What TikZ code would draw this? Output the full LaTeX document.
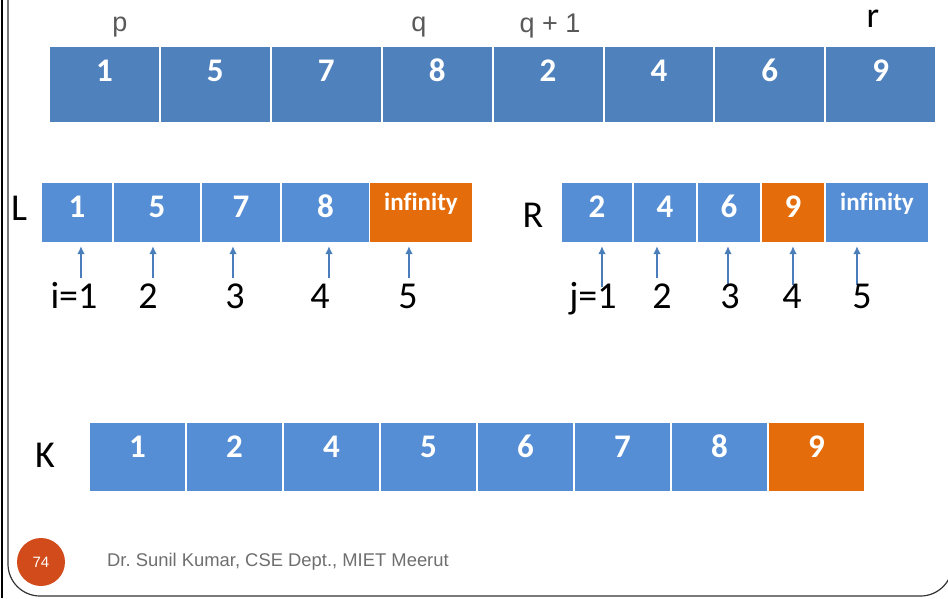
\documentclass[tikz,border=0pt]{standalone}
\usepackage{fontspec}
\setmainfont{Carlito}
\newfontfamily\arialFont{Liberation Sans}
\usetikzlibrary{arrows.meta, positioning, calc}
\definecolor{topBlue}{RGB}{79,129,189}
\definecolor{cellBlue}{RGB}{85,142,213}
\definecolor{cellOrange}{RGB}{228,108,10}
\definecolor{arrowBlue}{RGB}{74,126,187}
\definecolor{footRed}{RGB}{210,75,26}
\definecolor{labelGray}{RGB}{89,89,89}
\definecolor{footGray}{RGB}{110,110,110}
\tikzset{
    cellBase/.style={
        rectangle,
        inner sep=0pt,
        text=white,
        font=\fontsize{33}{33}\selectfont\bfseries,
        text height=34pt
    },
    topCell/.style={
        cellBase,
        fill=topBlue,
        minimum width=108.9pt,
        minimum height=75pt,
        text depth=41pt
    },
    midCell/.style={
        cellBase,
        minimum height=59pt,
        text depth=25pt
    },
    infCell/.style={
        midCell,
        font=\fontsize{25}{25}\selectfont\bfseries,
        text height=27pt,
        text depth=32pt
    },
    kCell/.style={
        cellBase,
        fill=cellBlue,
        minimum width=95pt,
        minimum height=68pt,
        text depth=34pt
    },
    ptrArrow/.style={
        -{Latex[length=8pt, width=7.5pt]},
        line width=1.7pt,
        draw=arrowBlue
    },
    idxLabel/.style={
        anchor=base,
        inner sep=0pt,
        font=\fontsize{38}{38}\selectfont
    },
    posLabel/.style={
        anchor=base,
        inner sep=0pt,
        text=labelGray,
        font=\arialFont\fontsize{27}{27}\selectfont
    }
}
\begin{document}
\begin{tikzpicture}[x=1pt, y=-1pt]
        \useasboundingbox (0,0) rectangle (948,598);

        % Slide frame
        \draw[line width=2pt] (2,0) -- (2,598);
        \draw[black!80, line width=1.2pt, rounded corners=32pt] (8,-40) -- (8,596) -- (952.5,596) -- (952.5,-40);

        % Array A[p..r]
        \foreach \v [count=\i] in {1,5,7,8,2,4,6,9} {
            \node[topCell] (t\i) at ({104.45+110.9*(\i-1)}, 84.5) {\v};
        }
        \node[posLabel] (pLab) at (120,31) {p};
        \node[posLabel] (qLab) at (419,31) {q};
        \node[posLabel] (q1Lab) at (550,32) {q + 1};
        \node[idxLabel, font=\fontsize{36}{36}\selectfont] (rLab) at (873,27) {r};

        % Left array L
        \node[idxLabel] (lName) at (19,220) {L};
        \foreach \cx/\w/\v [count=\i] in {77/70/1, 157/86/5, 241/78/7, 325.5/87/8} {
            \node[midCell, fill=cellBlue, minimum width=\w pt] (l\i) at (\cx,212.5) {\v};
        }
        \node[infCell, fill=cellOrange, minimum width=102pt] (l5) at (421,212.5) {inf\kern0pt inity};

        % Right array R
        \node[idxLabel] (rName) at (533,227) {R};
        \foreach \cx/\w/\v/\c [count=\i] in {597/70/2/cellBlue, 665/62/4/cellBlue, 729/62/6/cellBlue, 793/62/9/cellOrange} {
            \node[midCell, fill=\c, minimum width=\w pt] (r\i) at (\cx,212.5) {\v};
        }
        \node[infCell, fill=cellBlue, minimum width=102pt] (r5) at (877,212.5) {inf\kern0pt inity};

        % Index pointers
        \coordinate (lTip) at (0,246);
        \foreach \x/\y [count=\i] in {81/278, 153/278, 233/278, 329/278, 409/278} {
            \coordinate (iTail\i) at (\x,\y);
            \draw[ptrArrow] (iTail\i) -- (iTail\i |- lTip);
        }
        \foreach \x/\y [count=\i] in {602/287, 657/278, 728/285, 793/285, 857/285} {
            \coordinate (jTail\i) at (\x,\y);
            \draw[ptrArrow] (jTail\i) -- (jTail\i |- lTip);
        }
        \foreach \t/\x [count=\i] in {i=1/74, 2/148, 3/235, 4/320, 5/408} {
            \node[idxLabel] (iLab\i) at (\x,308) {\t};
        }
        \foreach \t/\x [count=\i] in {j=1/593, 2/662, 3/730, 4/792, 5/862} {
            \node[idxLabel] (jLab\i) at (\x,308) {\t};
        }

        % Merged array K
        \node[idxLabel] (kName) at (45,467) {K};
        \foreach \v [count=\i] in {1,2,4,5,6,7,8} {
            \node[kCell] (k\i) at ({137.5+97*(\i-1)},457) {\v};
        }
        \node[kCell, fill=cellOrange] (k8) at (816.5,457) {9};

        % Footer
        \node[circle, fill=footRed, minimum size=48pt, inner sep=0pt, text=white,
              font=\arialFont\fontsize{15}{15}\selectfont] (pageNum) at (41,562) {74};
        \node[anchor=base west, inner sep=0pt, text=footGray,
              font=\arialFont\fontsize{18.4}{18.4}\selectfont] (footer) at (107,566) {Dr.\ Sunil Kumar, CSE Dept., MIET Meerut};

    \end{tikzpicture}
\end{document}
